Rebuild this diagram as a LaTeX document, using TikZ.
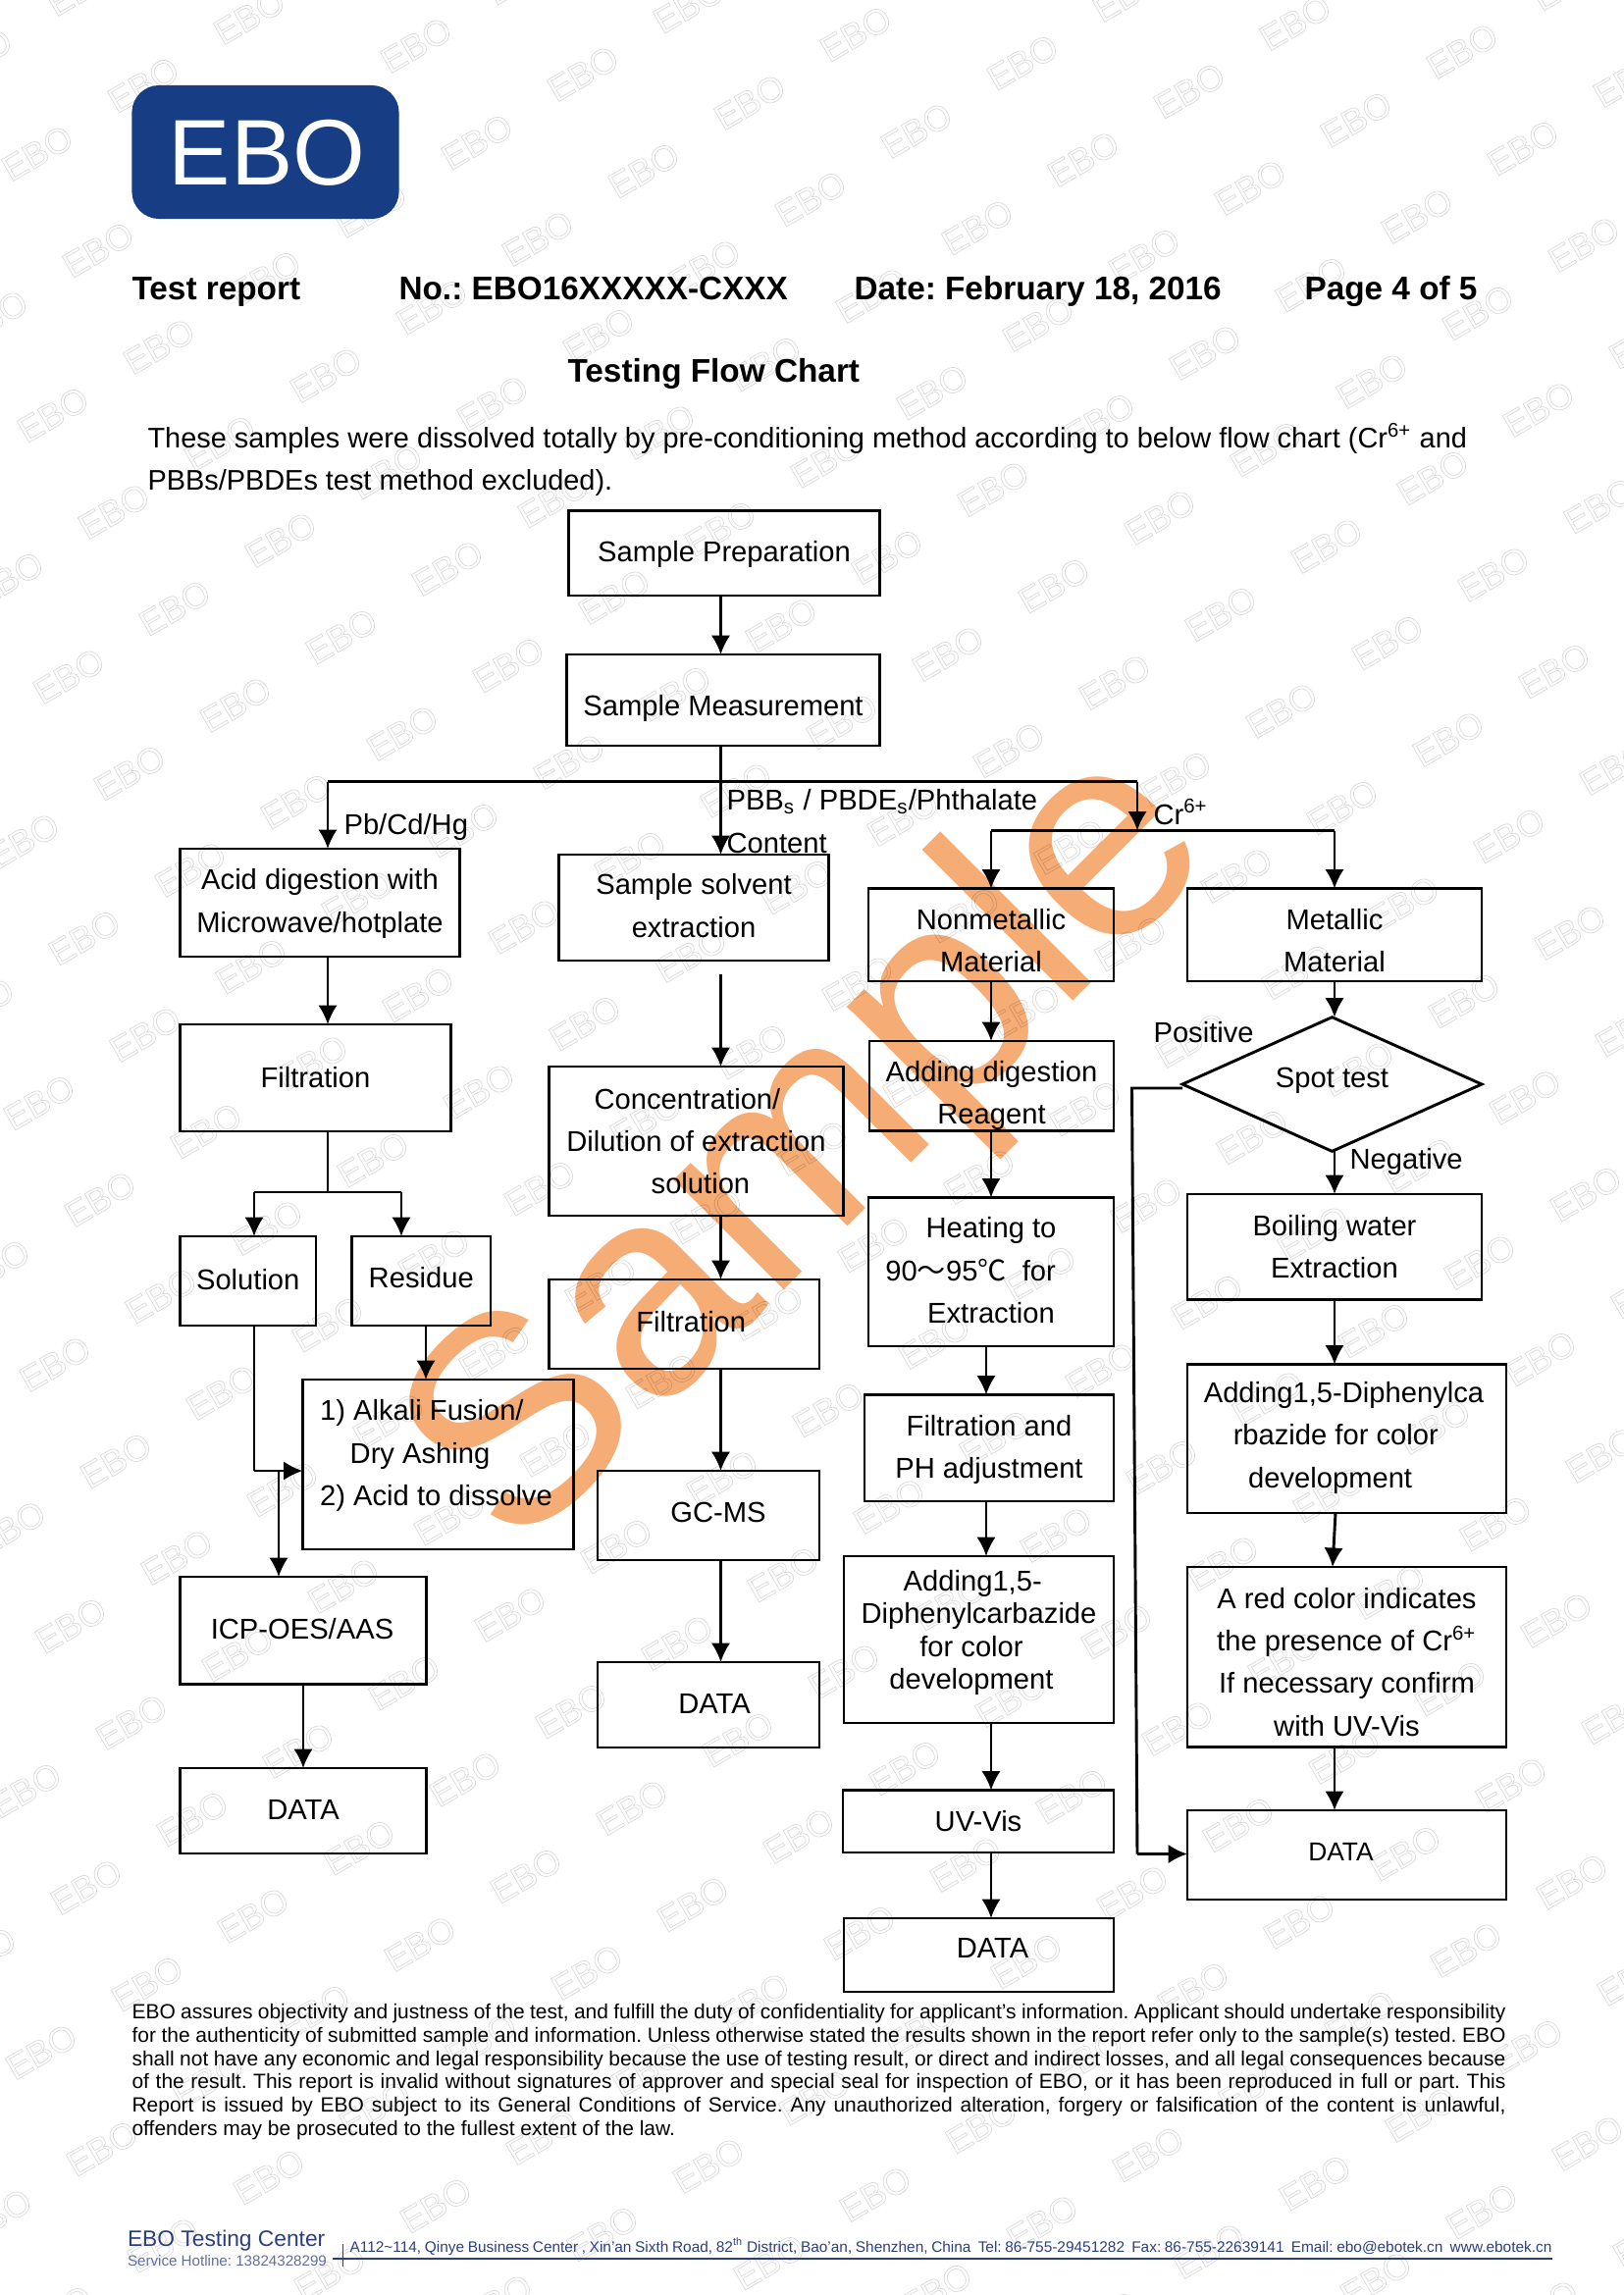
\documentclass[tikz,border=0pt]{standalone}
\usepackage{fontspec}
\setmainfont{Liberation Sans}
\newfontfamily\cjk{Noto Sans CJK SC}
\usetikzlibrary{arrows.meta,shapes.geometric}
\definecolor{ebonavy}{HTML}{173E84}
\definecolor{footblue}{HTML}{2B3F7E}
\definecolor{stampcol}{HTML}{F5AC75}
\tikzset{>={Latex[length=7pt,width=7pt]}}
\tikzset{
    boxline/.style={draw,line width=1.05pt,inner sep=0pt,outer sep=0pt},
    boxtext/.style={inner sep=0pt,align=center,font=\fontsize{10.5}{15.6}\selectfont},
    lbl/.style={inner sep=0pt,anchor=base west,font=\fontsize{10.5}{12}\selectfont},
    head/.style={inner sep=0pt,anchor=base west,font=\fontsize{12}{14}\selectfont\bfseries},
    link/.style={line width=1.05pt},
    arr/.style={line width=1.05pt,->},
    ebomark/.style={inner sep=0pt,rotate=30,font=\fontsize{13}{13}\selectfont}
}
% name, x1, y1, x2, y2, text, text options
\newcommand\flowbox[7][]{
    \node[boxline,minimum width={(#4-#2)*0.36pt},minimum height={(#5-#3)*0.36pt}] (#6) at ({(#2+#4)/2},{(#3+#5)/2}) {};
    \node[boxtext,#1] (#6txt) at (#6.center) {#7};
}
\newcommand\jline[1]{\makebox[504pt][s]{#1}\\}
\newcommand\padr[1]{\hspace*{#1}\mbox{}}
\begin{document}
\frenchspacing
\begin{tikzpicture}[x=0.36pt,y=-0.36pt]
    \useasboundingbox (0,0) rectangle (1654,2339);
    % background marks
    \foreach \i in {-12,...,16}
        \foreach \j in {-10,...,25}{
            \pgfmathsetmacro\mx{38+170*\i+62*\j}
            \pgfmathsetmacro\my{156+29*\i+98.5*\j}
            \node[ebomark] (wm\i\j) at (\mx,\my) {\special{pdf:code 1 Tr 0.25 w 0.85 G}EBO\special{pdf:code 0 Tr}};
        }
    % logo and header
    \node[fill=ebonavy,rounded corners=10pt,minimum width=98pt,minimum height=49pt,inner sep=0pt] (logo) at (270.5,155) {};
    \node[inner sep=0pt,text=white,font=\fontsize{34.2}{35}\selectfont] (logotxt) at (272,156) {EBO};
    \node[head] (report) at (134,305) {Test report};
    \node[head] (number) at (406,305) {No.: EBO16XXXXX-CXXX};
    \node[head] (date) at (870,305) {Date: February 18, 2016};
    \node[head] (page) at (1329,305) {Page 4 of 5};
    \node[head] (title) at (578,389) {Testing Flow Chart};
    \node[lbl,font=\fontsize{10.4}{12}\selectfont] (introa) at (150,456) {These samples were dissolved totally by pre-conditioning method according to below flow chart (Cr\textsuperscript{6+} and};
    \node[lbl,font=\fontsize{10.4}{12}\selectfont] (introb) at (150,499) {PBBs/PBDEs test method excluded).};
    % boxes
    \flowbox[shift={(0,1)}]{579.5}{520.5}{896.5}{607}{prep}{Sample Preparation}
    \flowbox[shift={(0,8)}]{577.5}{667}{896.5}{760}{meas}{Sample Measurement}
    \flowbox[shift={(0,1)}]{183.5}{865}{468.5}{975}{acid}{Acid digestion with\\Microwave/hotplate}
    \flowbox[shift={(0,-2)}]{569.5}{871}{844.5}{979}{solv}{Sample solvent\\extraction}
    \flowbox{183.5}{1044}{459.5}{1153}{filt}{Filtration}
    \flowbox{559.5}{1087}{859.5}{1239}{conc}{Concentration/\padr{6.5pt}\\Dilution of extraction\\\hspace*{3.2pt}solution}
    \flowbox[shift={(0,-1.5)}]{183.5}{1260}{322}{1351}{soln}{Solution}
    \flowbox[shift={(0,-3)}]{358.5}{1260}{500}{1351}{resi}{Residue}
    \flowbox[shift={(7,-2)}]{559.5}{1304}{835}{1395}{filtb}{Filtration}
    \flowbox[shift={(-2,-9)},align=left]{308.5}{1406}{584.5}{1579}{alka}{1) Alkali Fusion/\\\hspace*{11pt}Dry Ashing\\2) Acid to dissolve}
    \flowbox[shift={(10,-3)}]{609}{1499}{835}{1590}{gcms}{GC-MS}
    \flowbox[shift={(-1,-2)}]{183.5}{1607}{434.5}{1716.5}{icp}{ICP-OES/AAS}
    \flowbox[shift={(6,-1)}]{609}{1694}{835}{1781}{datab}{DATA}
    \flowbox[shift={(0,-1.5)}]{183.5}{1802}{434.5}{1889}{dataa}{DATA}
    \flowbox[shift={(0,6)}]{885}{905.5}{1135}{1000}{nonm}{Nonmetallic\\Material}
    \flowbox[shift={(0,6)}]{1210}{905.5}{1510}{1000}{meta}{Metallic\\Material}
    \flowbox[shift={(0,10)}]{886}{1061}{1135}{1152.5}{reag}{Adding digestion\\Reagent}
    \flowbox[shift={(0,-1.5)}]{885}{1220.5}{1135}{1372}{heat}{Heating to\\90{\cjk～}95{\cjk℃}\ \ for\padr{15pt}\\Extraction}
    \flowbox[shift={(0,2)}]{881}{1421.5}{1135}{1530}{filtc}{Filtration and\\PH adjustment}
    \flowbox[shift={(0,-7)},font=\fontsize{10.5}{12}\selectfont]{860}{1586}{1135}{1756}{addb}{Adding1,5-\padr{4.5pt}\\Diphenylcarbazide\\for color\padr{5.4pt}\\development\padr{5.4pt}}
    \flowbox[shift={(0,-0.5)}]{859}{1824.5}{1135}{1888}{uvvis}{UV-Vis}
    \flowbox[shift={(14,-7)}]{860}{1955}{1135}{2030}{datac}{DATA}
    \flowbox{1210}{1217}{1510}{1324.5}{boil}{Boiling water\\Extraction}
    \flowbox[shift={(-3,-1)}]{1210}{1390.5}{1535}{1542}{adda}{Adding1,5-Diphenylca\\rbazide for color\padr{5.9pt}\\development\padr{10pt}}
    \flowbox[shift={(0,5)}]{1210}{1597}{1535}{1780.5}{redc}{A red color indicates\\the presence of Cr\textsuperscript{6+}\\If necessary confirm\\with UV-Vis}
    \flowbox[shift={(-6,-3)},font=\fontsize{9.5}{12}\selectfont]{1210}{1845}{1535}{1936}{datad}{DATA}
    \node[boxline,shape=diamond,minimum width=109.8pt,minimum height=49.2pt] (spot) at (1357.5,1105) {};
    \node[boxtext] (spottxt) at (1357.5,1101) {Spot test};
    % junctions
    \coordinate (left)  at (334,796.5);
    \coordinate (right) at (1159,796.5);
    \coordinate (crl)   at (1010,846.5);
    \coordinate (crr)   at (1360,846.5);
    \coordinate (crm)   at (1159,846.5);
    \coordinate (fork)  at (334,1215);
    \coordinate (forka) at (259,1215);
    \coordinate (forkb) at (409,1215);
    \coordinate (bend)  at (259,1499);
    \coordinate (drop)  at (284,1499);
    \coordinate (posa)  at (1153.5,1109);
    \coordinate (posb)  at (1159,1889.5);
    % connectors
    \draw[arr] (prep.south -| 734.5,0) -- (meas.north -| 734.5,0);
    \draw[arr] (meas.south -| 734.5,0) -- (solv.north -| 734.5,0);
    \draw[link] (left) -- (right);
    \draw[arr] (left) -- (acid.north -| left);
    \draw[arr] (right) -- (crm);
    \draw[link] (crl) -- (crr);
    \draw[arr] (crl) -- (nonm.north -| crl);
    \draw[arr] (crr) -- (meta.north -| crr);
    \draw[arr] (nonm.south -| crl) -- (reag.north -| crl);
    \draw[arr] (reag.south -| crl) -- (heat.north -| crl);
    \draw[arr] (heat.south -| 1005,0) -- (filtc.north -| 1005,0);
    \draw[arr] (filtc.south -| 1005,0) -- (addb.north -| 1005,0);
    \draw[arr] (addb.south -| crl) -- (uvvis.north -| crl);
    \draw[arr] (uvvis.south -| crl) -- (datac.north -| crl);
    \draw[arr] (meta.south -| crr) -- (spot.north -| crr);
    \draw[arr] (spot.south -| crr) -- (boil.north -| crr);
    \draw[arr] (boil.south -| crr) -- (adda.north -| crr);
    \draw[arr] (adda.south -| 1361,0) -- (redc.north -| 1358,0);
    \draw[arr] (redc.south -| crr) -- (datad.north -| crr);
    \draw[link] (spot.west |- posa) -- (posa) -- (posb);
    \draw[arr] (posb) -- (datad.west |- posb);
    \draw[arr] (acid.south -| left) -- (filt.north -| left);
    \draw[link] (filt.south -| left) -- (fork);
    \draw[link] (forka) -- (forkb);
    \draw[arr] (forka) -- (soln.north -| forka);
    \draw[arr] (forkb) -- (resi.north -| forkb);
    \draw[link] (soln.south -| bend) -- (bend);
    \draw[arr] (bend) -- (alka.west |- bend);
    \draw[arr] (drop) -- (icp.north -| drop);
    \draw[arr] (resi.south -| 434,0) -- (alka.north -| 434,0);
    \draw[arr] (icp.south -| 309,0) -- (dataa.north -| 309,0);
    \draw[arr] (solv.south -| 734.5,0) ++(0,14) -- (conc.north -| 734.5,0);
    \draw[arr] (conc.south -| 734.5,0) -- (filtb.north -| 734.5,0);
    \draw[arr] (filtb.south -| 734.5,0) -- (gcms.north -| 734.5,0);
    \draw[arr] (gcms.south -| 734.5,0) -- (datab.north -| 734.5,0);
    % labels
    \node[lbl] (pbcd) at (350,850) {Pb/Cd/Hg};
    \node[lbl] (pbba) at (740,825) {PBB\textsubscript{s} / PBDE\textsubscript{s}/Phthalate};
    \node[lbl] (pbbb) at (740,869) {Content};
    \node[lbl] (crsix) at (1175,840) {Cr\textsuperscript{6+}};
    \node[lbl] (posi) at (1175,1062) {Positive};
    \node[lbl] (nega) at (1375,1191) {Negative};
    % disclaimer and footer
    \node[inner sep=0pt,anchor=north west,align=left,font=\fontsize{7.55}{8.52}\selectfont] (terms) at (134,2042) {%
        \jline{EBO assures objectivity and justness of the test, and fulfill the duty of confidentiality for applicant’s information. Applicant should undertake responsibility}%
        \jline{for the authenticity of submitted sample and information. Unless otherwise stated the results shown in the report refer only to the sample(s) tested. EBO}%
        \jline{shall not have any economic and legal responsibility because the use of testing result, or direct and indirect losses, and all legal consequences because}%
        \jline{of the result. This report is invalid without signatures of approver and special seal for inspection of EBO, or it has been reproduced in full or part. This}%
        \jline{Report is issued by EBO subject to its General Conditions of Service. Any unauthorized alteration, forgery or falsification of the content is unlawful,}%
        offenders may be prosecuted to the fullest extent of the law.};
    \node[lbl,text=footblue,font=\fontsize{8.2}{9}\selectfont] (center) at (129.5,2289) {EBO Testing Center};
    \node[lbl,text=footblue!75,font=\fontsize{5.45}{6}\selectfont] (hotline) at (129.5,2309) {Service Hotline: 13824328299};
    \node[lbl,text=footblue,font=\fontsize{5.55}{6}\selectfont] (address) at (356,2295) {\makebox[441pt][s]{A112\textasciitilde114, Qinye Business Center , Xin'an Sixth Road, 82\textsuperscript{th} District, Bao'an, Shenzhen, China\ \ Tel: 86-755-29451282\ \ Fax: 86-755-22639141\ \ Email: ebo@ebotek.cn\ \ www.ebotek.cn}};
    \coordinate (rulea) at (339,2302);
    \coordinate (ruleb) at (1582,2302);
    \coordinate (tick)  at (349,2287);
    \coordinate (ticke) at (349,2310);
    \draw[footblue,line width=0.4pt] (rulea) -- (ruleb);
    \draw[footblue,line width=0.3pt] (tick) -- (ticke);
    % stamp
    \begin{scope}[blend mode=multiply]
        \node[inner sep=0pt,rotate=45,text=stampcol,font=\fontsize{108}{108}\selectfont] (stamp) at (830,1174) {Sample};
    \end{scope}
\end{tikzpicture}
\end{document}
